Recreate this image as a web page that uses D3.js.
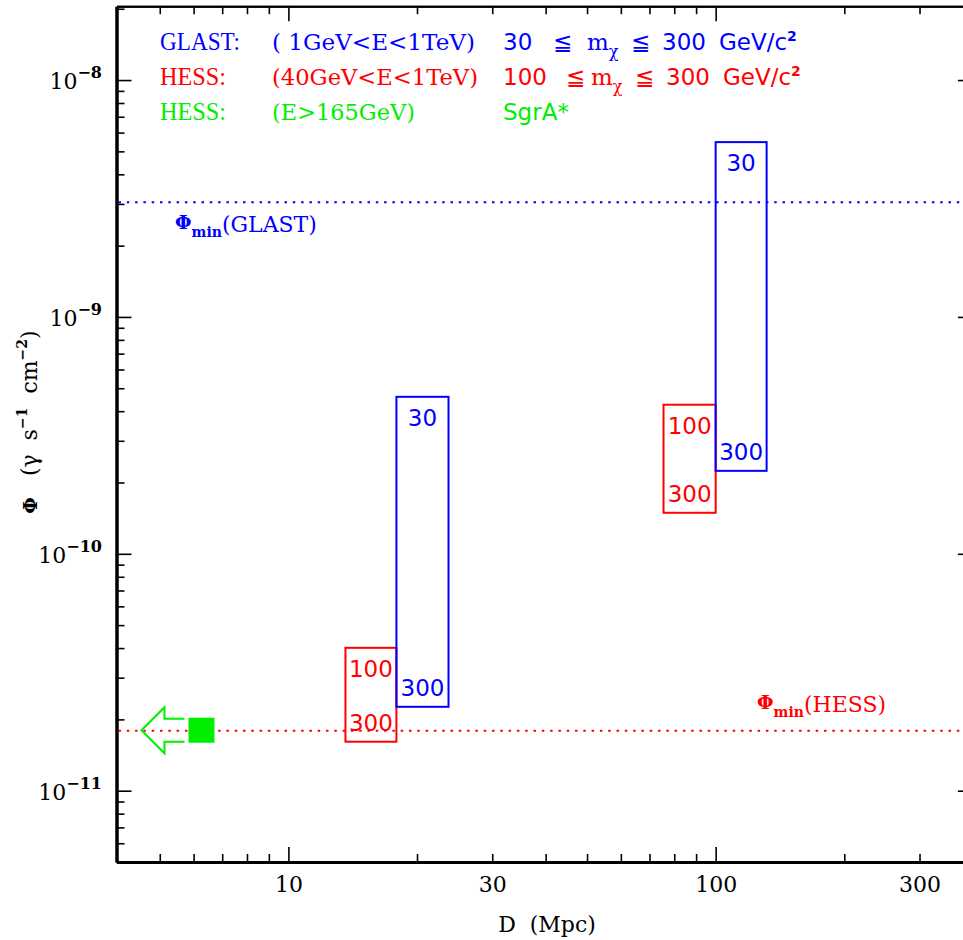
<!DOCTYPE html>
<html>
<head>
<meta charset="utf-8">
<script src="https://cdn.jsdelivr.net/npm/d3@7"></script>
<style>
    body { margin: 0; background: #fff; }
    svg { display: block; }
</style>
</head>
<body>
<svg id="graph" width="963" height="940"></svg>
<script>
// ---- data ----
const xMajor = [10, 100];
const xMinor = [5, 6, 7, 8, 9, 20, 30, 40, 50, 60, 70, 80, 90, 200, 300];
const xLabels = [10, 30, 100, 300];
const yMajor = [1e-11, 1e-10, 1e-9, 1e-8];

// flux boxes (mass range -> flux range) at each distance
const boxInstrument = ['HESS', 'GLAST', 'HESS', 'GLAST'];
const boxDLow = [13.6, 17.9, 75.5, 100];
const boxDHigh = [17.9, 23.7, 100, 131.6];
const boxFluxHigh = [4.01e-11, 4.60e-10, 4.26e-10, 5.47e-9];
const boxFluxLow = [1.61e-11, 2.26e-11, 1.49e-10, 2.24e-10];
const boxMassTop = ['100', '30', '100', '30'];
const boxMassBottom = ['300', '300', '300', '300'];

// minimum detectable flux
const thresholdNames = ['GLAST', 'HESS'];
const thresholdFlux = [3.05e-9, 1.79e-11];

// SgrA* (upper limit in distance)
const sgrD = [6.26];
const sgrFlux = [1.8e-11];

const legendNames = ['GLAST:', 'HESS:', 'HESS:'];
const legendBands = ['( 1GeV<E<1TeV)', '(40GeV<E<1TeV)', '(E>165GeV)'];
const legendMassLow = ['30', '100', null];
const legendMassHigh = ['300', '300', null];

const colors = { GLAST: '#0000ff', HESS: '#ff0000', SGR: '#00ee00' };
const serif = '"DejaVu Serif", serif';
const sans = '"DejaVu Sans", sans-serif';
const NB = '\u00a0';

let svg = d3.select('#graph');
let x = d3.scaleLog().domain([3.96, 400]).range([116.5, 972.9]);
let y = d3.scaleLog().domain([5e-12, 2.05e-8]).range([862, 6.2]);
let yMinor = y.ticks().filter(v => !yMajor.some(m => Math.abs(m - v) / m < 1e-6));

// ---- axes ----
function styleAxis(g, w) {
    g.select('.domain').attr('stroke', '#000').attr('stroke-width', w);
    g.selectAll('.tick line').attr('stroke', '#000').attr('stroke-width', 1.6);
    g.selectAll('.tick text').remove();
}
// bottom
svg.append('g').attr('transform', `translate(0,${y.range()[0]})`)
    .call(d3.axisBottom(x).tickValues(xMinor).tickSizeInner(-8).tickSizeOuter(0))
    .call(g => styleAxis(g, 3));
svg.append('g').attr('transform', `translate(0,${y.range()[0]})`)
    .call(d3.axisBottom(x).tickValues(xMajor).tickSizeInner(-15).tickSizeOuter(0))
    .call(g => styleAxis(g, 3));
svg.append('g').attr('transform', `translate(0,${y.range()[0]})`)
    .call(d3.axisBottom(x).tickValues(xLabels).tickSize(0).tickPadding(14).tickFormat(d3.format('d')))
    .call(g => g.select('.domain').remove())
    .selectAll('text')
    .attr('fill', '#000')
    .style('font', `22px ${serif}`);
// top
svg.append('g').attr('transform', `translate(0,${y.range()[1]})`)
    .call(d3.axisTop(x).tickValues(xMinor).tickSizeInner(-8).tickSizeOuter(0))
    .call(g => styleAxis(g, 2));
svg.append('g').attr('transform', `translate(0,${y.range()[1]})`)
    .call(d3.axisTop(x).tickValues(xMajor).tickSizeInner(-15).tickSizeOuter(0))
    .call(g => styleAxis(g, 2));
// left
svg.append('g').attr('transform', `translate(${x.range()[0]},0)`)
    .call(d3.axisLeft(y).tickValues(yMinor).tickSizeInner(-8).tickSizeOuter(0))
    .call(g => styleAxis(g, 3));
svg.append('g').attr('transform', `translate(${x.range()[0]},0)`)
    .call(d3.axisLeft(y).tickValues(yMajor).tickSizeInner(-15).tickSizeOuter(0))
    .call(g => styleAxis(g, 3));
// right
svg.append('g').attr('transform', `translate(${x.range()[1]},0)`)
    .call(d3.axisRight(y).tickValues(yMinor).tickSizeInner(-8).tickSizeOuter(0))
    .call(g => styleAxis(g, 2));
svg.append('g').attr('transform', `translate(${x.range()[1]},0)`)
    .call(d3.axisRight(y).tickValues(yMajor).tickSizeInner(-15).tickSizeOuter(0))
    .call(g => styleAxis(g, 2));

// y tick labels 10^n
let yl = svg.append('g').selectAll('text')
    .data(yMajor)
    .enter()
    .append('text')
    .attr('text-anchor', 'end')
    .attr('x', 102)
    .attr('y', d => y(d) + 9)
    .style('font', `22px ${serif}`)
    .attr('fill', '#000');
yl.append('tspan').text('10');
yl.append('tspan')
    .attr('dy', -11)
    .style('font-size', '16px')
    .style('font-weight', 'bold')
    .text(d => '\u2212' + Math.round(-Math.log10(d)));

// axis titles
svg.append('text')
    .attr('x', 547)
    .attr('y', 932)
    .attr('text-anchor', 'middle')
    .style('font', `22px ${serif}`)
    .text(`D${NB}${NB}(Mpc)`);

let yt = svg.append('text')
    .attr('transform', 'translate(37,422) rotate(-90)')
    .attr('text-anchor', 'middle')
    .style('font', `22px ${serif}`);
yt.append('tspan').style('font-weight', 'bold').style('font-size', '19px').text('\u03a6');
yt.append('tspan').text(`${NB}${NB}${NB}(\u03b3${NB}${NB}s`);
yt.append('tspan').attr('dy', -10).style('font-size', '14px').style('font-weight', 'bold').text('\u22121');
yt.append('tspan').attr('dy', 10).text(`${NB}${NB}cm`);
yt.append('tspan').attr('dy', -10).style('font-size', '14px').style('font-weight', 'bold').text('\u22122');
yt.append('tspan').attr('dy', 10).text(')');

// ---- threshold lines ----
svg.append('g').selectAll('line')
    .data(thresholdNames)
    .enter()
    .append('line')
    .attr('x1', x.range()[0] + 2)
    .attr('x2', x.range()[1])
    .attr('y1', (d, i) => y(thresholdFlux[i]))
    .attr('y2', (d, i) => y(thresholdFlux[i]))
    .attr('stroke', d => colors[d])
    .attr('stroke-width', 2)
    .attr('stroke-dasharray', '2.5,5.8');

// labels Φmin(...)
const thrLabelX = [175, 757];
const thrLabelDy = [30, -19];
let tl = svg.append('g').selectAll('text')
    .data(thresholdNames)
    .enter()
    .append('text')
    .attr('x', (d, i) => thrLabelX[i])
    .attr('y', (d, i) => y(thresholdFlux[i]) + thrLabelDy[i])
    .attr('fill', d => colors[d])
    .style('font', `22px ${serif}`);
tl.append('tspan').attr('dy', -3).style('font-weight', 'bold').style('font-size', '19px').text('\u03a6');
tl.append('tspan').attr('dy', 8).style('font-size', '14px').style('font-weight', 'bold').text('min');
tl.append('tspan').attr('dy', -5).text(d => `(${d})`);

// ---- boxes ----
let boxes = svg.append('g').selectAll('g')
    .data(boxInstrument)
    .enter()
    .append('g');
boxes.append('rect')
    .attr('x', (d, i) => x(boxDLow[i]))
    .attr('y', (d, i) => y(boxFluxHigh[i]))
    .attr('width', (d, i) => x(boxDHigh[i]) - x(boxDLow[i]))
    .attr('height', (d, i) => y(boxFluxLow[i]) - y(boxFluxHigh[i]))
    .attr('fill', 'none')
    .attr('stroke', d => colors[d])
    .attr('stroke-width', 2);
boxes.append('text')
    .attr('x', (d, i) => (x(boxDLow[i]) + x(boxDHigh[i])) / 2)
    .attr('y', (d, i) => y(boxFluxHigh[i]) + 29)
    .attr('text-anchor', 'middle')
    .attr('fill', d => colors[d])
    .style('font', `23px ${sans}`)
    .text((d, i) => boxMassTop[i]);
boxes.append('text')
    .attr('x', (d, i) => (x(boxDLow[i]) + x(boxDHigh[i])) / 2)
    .attr('y', (d, i) => y(boxFluxLow[i]) - 11)
    .attr('text-anchor', 'middle')
    .attr('fill', d => colors[d])
    .style('font', `23px ${sans}`)
    .text((d, i) => boxMassBottom[i]);

// ---- SgrA* ----
let sgr = svg.append('g').selectAll('g')
    .data(sgrD)
    .enter()
    .append('g')
    .attr('transform', (d, i) => `translate(${x(d)},${y(sgrFlux[i])})`);
sgr.append('rect')
    .attr('x', -13).attr('y', -12.5)
    .attr('width', 26).attr('height', 25)
    .attr('fill', colors.SGR);
sgr.append('path')
    .attr('d', d3.line()([[-17, -11.5], [-37, -11.5], [-37, -23], [-60, 0], [-37, 23], [-37, 11.5], [-17, 11.5]]))
    .attr('fill', 'none')
    .attr('stroke', colors.SGR)
    .attr('stroke-width', 2);

// ---- legend ----
const legendColors = [colors.GLAST, colors.HESS, colors.SGR];
const legendNameW = [80, 66, 66];
const legendBandW = [203, 206, 143];
let lg = svg.append('g').selectAll('g')
    .data(legendNames)
    .enter()
    .append('g')
    .attr('transform', (d, i) => `translate(0,${50 + i * 35})`)
    .attr('fill', (d, i) => legendColors[i]);
lg.append('text')
    .attr('x', 160)
    .style('font', `25px "Liberation Serif", serif`)
    .attr('textLength', (d, i) => legendNameW[i])
    .attr('lengthAdjust', 'spacingAndGlyphs')
    .text(d => d);
lg.append('text')
    .attr('x', 272)
    .style('font', `23px ${serif}`)
    .attr('textLength', (d, i) => legendBandW[i])
    .attr('lengthAdjust', 'spacingAndGlyphs')
    .text((d, i) => legendBands[i].replace(/ /g, NB));

lg.each(function (d, i) {
    let g = d3.select(this);
    if (legendMassLow[i] === null) {
        g.append('text').attr('x', 503).style('font', `23px ${sans}`).text('SgrA*');
        return;
    }
    let off = legendMassLow[i].length === 2 ? 0 : 13;
    let t = g.append('text').style('font', `23px ${sans}`);
    t.append('tspan').attr('x', 503).text(legendMassLow[i]);
    t.append('tspan').attr('x', 553 + off).text('\u2266');
    t.append('tspan').attr('x', 587 + off + (off ? -9 : 0)).style('font-family', serif).text('m');
    t.append('tspan').attr('dy', 7).style('font-size', '16px').style('font-family', serif).text('\u03c7');
    t.append('tspan').attr('x', 631 + off - (off ? 9 : 0)).attr('dy', -7).text('\u2266');
    t.append('tspan').attr('x', 662 + (off ? 4 : 0)).text(legendMassHigh[i]);
    t.append('tspan').attr('x', 719 + (off ? 4 : 0)).text('GeV/c');
    t.append('tspan').attr('dy', -9).style('font-size', '14px').style('font-weight', 'bold').text('2');
});
</script>
</body>
</html>
